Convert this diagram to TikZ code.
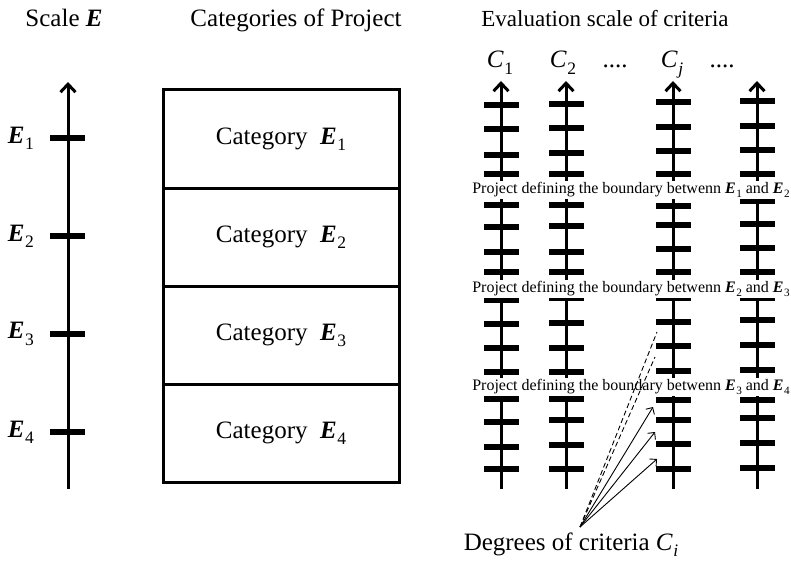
\documentclass[tikz,border=0pt]{standalone}
\usepackage{fontspec}
\usepackage{graphicx}
\setmainfont{Liberation Serif}
\usetikzlibrary{arrows.meta}

% bold italic E with an upright subscript, italic C with a subscript
\newcommand{\Ebs}[1]{\textbf{\textit{E}}\kern0.5pt\raisebox{-0.25em}{\scalebox{0.7}{#1}}}
\newcommand{\Cit}[1]{\textit{C}\kern0.5pt\raisebox{-0.25em}{\scalebox{0.7}{#1}}}

\tikzset{
  bigtext/.style={font=\fontsize{25}{30}\selectfont, inner sep=0pt},
  smalltext/.style={font=\fontsize{16}{19}\selectfont, fill=white, inner sep=1pt},
  axisline/.style={line width=3pt, -{Straight Barb[length=8pt,width=15pt,line width=3pt]}},
  tickmark/.style={line width=6pt},
  catbox/.style={draw, line width=3pt, minimum width=236pt, minimum height=98pt,
                 inner sep=0pt, font=\fontsize{25}{30}\selectfont},
  thinarrow/.style={line width=0.9pt, -{Straight Barb[length=5pt,width=10pt,line width=0.9pt]}},
  dashline/.style={line width=0.9pt, dashed, dash pattern=on 5pt off 3pt},
}

\begin{document}
\begin{tikzpicture}[x=1pt, y=-1pt]
\useasboundingbox (0,0) rectangle (791,564);

% headings
\node[bigtext, anchor=base] (tscale) at (64,27) {Scale \textbf{\textit{E}}};
\node[bigtext, anchor=base] (tcat) at (296,27) {Categories of Project};
\node[bigtext, anchor=base, font=\fontsize{23}{28}\selectfont] (teval) at (605,27) {Evaluation scale of criteria};

% scale E
\coordinate (sbot) at (68,489);
\coordinate (stop) at (68,82);
\draw[axisline] (sbot) -- (stop);
\foreach \y/\k in {138/1, 236/2, 334/3, 432/4} {
  \draw[tickmark] (50,\y) -- (85,\y);
  \node[bigtext, anchor=east] (e\k) at (34,\y) {\Ebs{\k}};
}

% categories of project
\node[catbox] (cat1) at (281,139) {Category\enspace\Ebs{1}};
\node[catbox] (cat2) at (281,237) {Category\enspace\Ebs{2}};
\node[catbox] (cat3) at (281,335) {Category\enspace\Ebs{3}};
\node[catbox] (cat4) at (281,433) {Category\enspace\Ebs{4}};

% evaluation scales of the criteria
\foreach \x/\n in {501/a, 566/b, 673/c, 757/d} {
  \coordinate (\n bot) at (\x,489);
  \coordinate (\n top) at (\x,81);
  \draw[axisline] (\n bot) -- (\n top);
}
\foreach \y in {105,129,155,174, 205,227,252,272, 300,324,348,372, 399,422,447,469}
  \draw[tickmark] (484,\y) -- (519,\y);
\foreach \y in {104,128,153,174, 205,226,252,272, 298,323,348,372, 399,420,445,469}
  \draw[tickmark] (549,\y) -- (584,\y);
\foreach \y in {102,127,151,174, 206,225,249,272, 298,322,346,371, 400,420,444,469}
  \draw[tickmark] (656,\y) -- (691,\y);
\foreach \y in {101,126,150,174, 201,224,248,272, 298,320,345,370, 400,418,443,468}
  \draw[tickmark] (740,\y) -- (775,\y);

\node[bigtext, anchor=base] (c1) at (500,68) {\Cit{1}};
\node[bigtext, anchor=base] (c2) at (563,68) {\Cit{2}};
\node[bigtext, anchor=base] (d1) at (615,68) {....};
\node[bigtext, anchor=base] (cj) at (672,68) {\Cit{\textit{j}}};
\node[bigtext, anchor=base] (d2) at (722,68) {....};

% boundary projects
\node[smalltext] (b12) at (631,190) {Project defining the boundary betwenn \Ebs{1} and \Ebs{2}};
\node[smalltext] (b23) at (631,289) {Project defining the boundary betwenn \Ebs{2} and \Ebs{3}};
\node[smalltext] (b34) at (631,387) {Project defining the boundary betwenn \Ebs{3} and \Ebs{4}};

% degrees of criterion C_i
\node[bigtext] (deg) at (571,545) {Degrees of criteria \Cit{\textit{i}}};
\coordinate (o) at (580,527);
\coordinate (g1) at (653,407);
\coordinate (g2) at (655,432);
\coordinate (g3) at (657,459);
\coordinate (h1) at (657,332);
\coordinate (h2) at (655,357);
\draw[dashline] (o) -- (h1);
\draw[dashline] (o) -- (h2);
\draw[thinarrow] (o) -- (g1);
\draw[thinarrow] (o) -- (g2);
\draw[thinarrow] (o) -- (g3);
\end{tikzpicture}
\end{document}
